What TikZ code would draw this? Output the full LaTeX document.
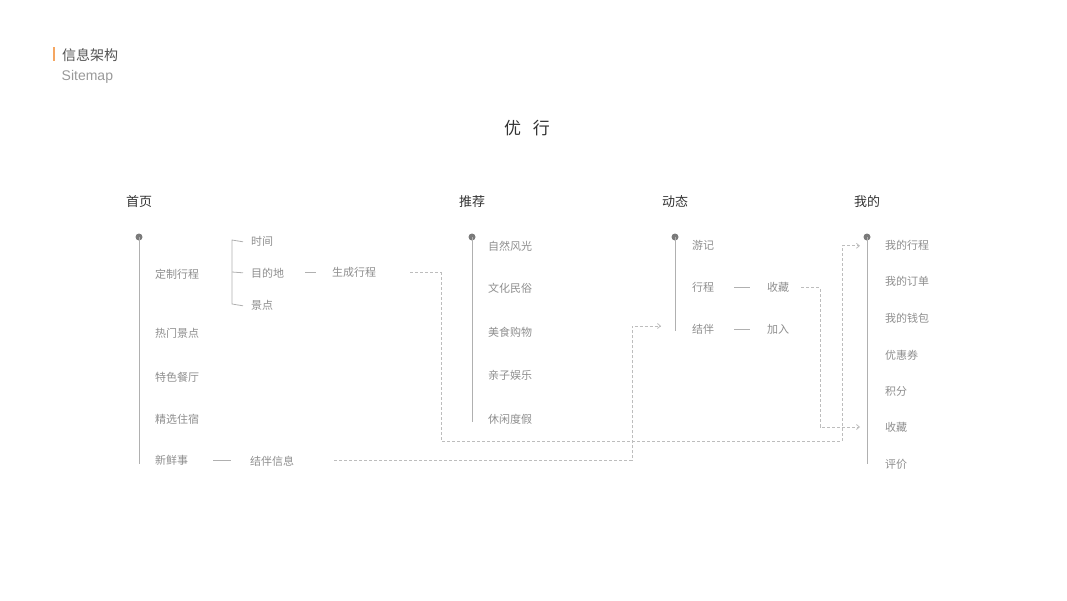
\documentclass[tikz,border=0pt]{standalone}
\usepackage{fontspec}
\setmainfont{Noto Sans CJK SC}
\newfontfamily\latinsans{Liberation Sans}
\usetikzlibrary{arrows.meta}
\definecolor{itemc}{HTML}{8E8E8E}
\definecolor{headc}{HTML}{333333}
\definecolor{linec}{HTML}{B0B0B0}
\definecolor{dashc}{HTML}{BDBDBD}
\definecolor{dotc}{HTML}{7A7A7A}
\definecolor{orangec}{HTML}{F5A661}
\tikzset{
  item/.style={anchor=west,inner sep=0pt,yshift=-0.8pt,text=itemc,font=\fontsize{11}{11}\selectfont},
  head/.style={anchor=west,inner sep=0pt,yshift=-0.8pt,text=headc,font=\fontsize{13}{13}\selectfont},
  spine/.style={draw=linec,line width=1pt},
  tick/.style={draw=linec,line width=0.8pt},
  dotmark/.style={circle,fill=dotc,inner sep=0pt,minimum size=7pt},
  dconn/.style={draw=dashc,line width=0.8pt,dash pattern=on 3pt off 2pt,-{Straight Barb[length=3pt,width=5pt]}},
}
\begin{document}
\begin{tikzpicture}[x=1pt,y=-1pt]
\useasboundingbox (0,0) rectangle (1067,600);
% title block
\fill[orangec] (52.5,47) rectangle (54.5,61);
\node[anchor=west,inner sep=0pt,yshift=-0.8pt,text=headc!85,font=\fontsize{14}{14}\selectfont] (ti) at (62,54) {信息架构};
\node[anchor=west,inner sep=0pt,text=itemc!90,font=\latinsans\fontsize{14}{14}\selectfont] (sm) at (61.5,77) {Sitemap};
\node[inner sep=0pt,yshift=-0.8pt,text=headc,font=\fontsize{17}{17}\selectfont] (main) at (527,127) {优\hspace{0.7em}行};
% headers
\node[head] (h1) at (126,201) {首页};
\node[head] (h2) at (459,201) {推荐};
\node[head] (h3) at (662,201) {动态};
\node[head] (h4) at (854,201) {我的};
% column 1
\node[dotmark] (d1) at (139,237) {};
\coordinate (e1) at (139,464);
\draw[spine] (d1.center) -- (e1);
\node[item] (a1) at (155,273) {定制行程};
\node[item] (a2) at (155,333) {热门景点};
\node[item] (a3) at (155,376) {特色餐厅};
\node[item] (a4) at (155,418) {精选住宿};
\node[item] (a5) at (155,460) {新鲜事};
\node[item] (t1) at (251,241) {时间};
\node[item] (t2) at (251,272) {目的地};
\node[item] (t3) at (251,305) {景点};
\node[item] (gen) at (332,272) {生成行程};
\node[item] (jb) at (250,460) {结伴信息};
\coordinate (bt) at (232,240);
\coordinate (bb) at (232,304);
\coordinate (bm) at (232,272);
\draw[tick] ([xshift=-8pt]t1.west) -- (bt) -- (bb) -- ([xshift=-8pt]t3.west);
\draw[tick] (bm) -- ([xshift=-8pt]t2.west);
\draw[tick] ([xshift=21pt]t2.east) -- ([xshift=-16pt]gen.west);
\draw[tick] ([xshift=25pt]a5.east) -- ([xshift=-19pt]jb.west);
% column 2
\node[dotmark] (d2) at (472,237) {};
\coordinate (e2) at (472,422);
\draw[spine] (d2.center) -- (e2);
\node[item] (b1) at (488,245) {自然风光};
\node[item] (b2) at (488,288) {文化民俗};
\node[item] (b3) at (488,331) {美食购物};
\node[item] (b4) at (488,375) {亲子娱乐};
\node[item] (b5) at (488,418) {休闲度假};
% column 3
\node[dotmark] (d3) at (675,237) {};
\coordinate (e3) at (675,331);
\draw[spine] (d3.center) -- (e3);
\node[item] (c1) at (692,245) {游记};
\node[item] (c2) at (692,287) {行程};
\node[item] (c3) at (692,329) {结伴};
\node[item] (c4) at (767,287) {收藏};
\node[item] (c5) at (767,329) {加入};
\draw[tick] ([xshift=20pt]c2.east) -- ([xshift=-17pt]c4.west);
\draw[tick] ([xshift=20pt]c3.east) -- ([xshift=-17pt]c5.west);
% column 4
\node[dotmark] (d4) at (867,237) {};
\coordinate (e4) at (867,464);
\draw[spine] (d4.center) -- (e4);
\node[item] (m1) at (885,245) {我的行程};
\node[item] (m2) at (885,281) {我的订单};
\node[item] (m3) at (885,318) {我的钱包};
\node[item] (m4) at (885,354) {优惠券};
\node[item] (m5) at (885,391) {积分};
\node[item] (m6) at (885,427) {收藏};
\node[item] (m7) at (885,464) {评价};
% dashed connectors
\coordinate (r1a) at (441,441);
\coordinate (r1b) at (842,441);
\draw[dconn] ([xshift=34pt]gen.east) -| (r1a) -- (r1b) |- ([xshift=-25pt]m1.west);
\coordinate (r2a) at (632,326);
\draw[dconn] ([xshift=40pt]jb.east) -| (r2a) -- ([xshift=-31pt]c3.west |- r2a);
\coordinate (r3a) at (820,427);
\draw[dconn] ([xshift=12pt]c4.east) -| (r3a) -- ([xshift=-25pt]m6.west |- r3a);
\end{tikzpicture}
\end{document}
